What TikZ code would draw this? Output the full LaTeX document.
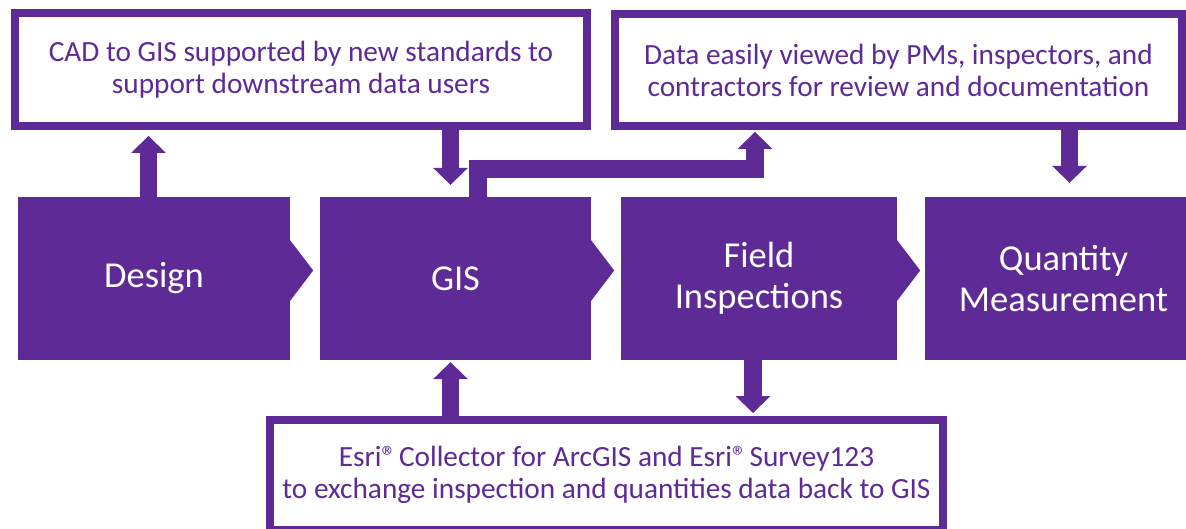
\documentclass[tikz,border=0pt]{standalone}
\usepackage{fontspec}
\setmainfont{Carlito}
\usetikzlibrary{arrows.meta,calc}
\definecolor{purp}{RGB}{94,42,150}
\newcommand{\regmark}{®\kern-4pt}
\begin{document}
\begin{tikzpicture}[x=1pt,y=-1pt,
  stage/.style={fill=purp,text=white,minimum width=#1,minimum height=163pt,inner sep=0pt,align=center,font=\fontsize{36.5}{41}\selectfont},
  infobox/.style={draw=purp,line width=8pt,fill=white,text=purp,inner sep=0pt,align=center,font=\fontsize{29.3}{32}\selectfont},
  blockarrow/.style={draw=purp,line width=17.5pt,line join=miter,-{Triangle[length=17pt,width=35pt,line width=0pt]}},
  pointer/.style={fill=purp}
]
\useasboundingbox (0,0) rectangle (1186,529);
\clip (0,0) rectangle (1186,529);

% process stages
\node[stage=272pt] (design) at (154,278.5) {Design};
\node[stage=271pt] (gis) at (455.5,278.5) {GIS};
\node[stage=276pt] (field) at (759,278.5) {Field\\Inspections};
\node[stage=277pt] (qty) at (1063.5,278.5) {Quantity\\Measurement};
\foreach \n in {design,gis,field}
  \fill[pointer] ($(\n.east)+(-1,-39.5)$) -- ($(\n.east)+(23,-8)$) -- ($(\n.east)+(-1,23.5)$) -- cycle;

% info boxes
\node[infobox,minimum width=572pt,minimum height=113pt] (cad) at (301,69.5)
  {CAD to GIS supported by new standards to\\support downstream data users};
\node[infobox,minimum width=567pt,minimum height=112pt] (view) at (898.5,70)
  {Data easily viewed by PMs, inspectors, and\\contractors for review and documentation};
\node[infobox,minimum width=673pt,minimum height=110pt] (esri) at (606.5,475)
  {Esri\regmark{} Collector for ArcGIS and Esri\regmark{} Survey123\\to exchange inspection and quantities data back to GIS};

% arrow columns
\coordinate (xa) at (148.5,0);
\coordinate (xb) at (450.5,0);
\coordinate (xc) at (753,0);
\coordinate (xd) at (1069.5,0);
\coordinate (e1) at (478,169);
\coordinate (e2) at (755,169);

\draw[blockarrow,shorten >=6pt] (design.north -| xa) -- (cad.south -| xa);
\draw[blockarrow,shorten >=12pt] (cad.south -| xb) -- (gis.north -| xb);
\draw[blockarrow,shorten >=2pt] (esri.north -| xb) -- (gis.south -| xb);
\draw[blockarrow,shorten >=3pt] (field.south -| xc) -- (esri.north -| xc);
\draw[blockarrow,shorten >=14pt] (view.south -| xd) -- (qty.north -| xd);
\draw[blockarrow,shorten >=2pt] (gis.north -| e1) -- (e1) -- (e2) -- (view.south -| e2);
\end{tikzpicture}
\end{document}
